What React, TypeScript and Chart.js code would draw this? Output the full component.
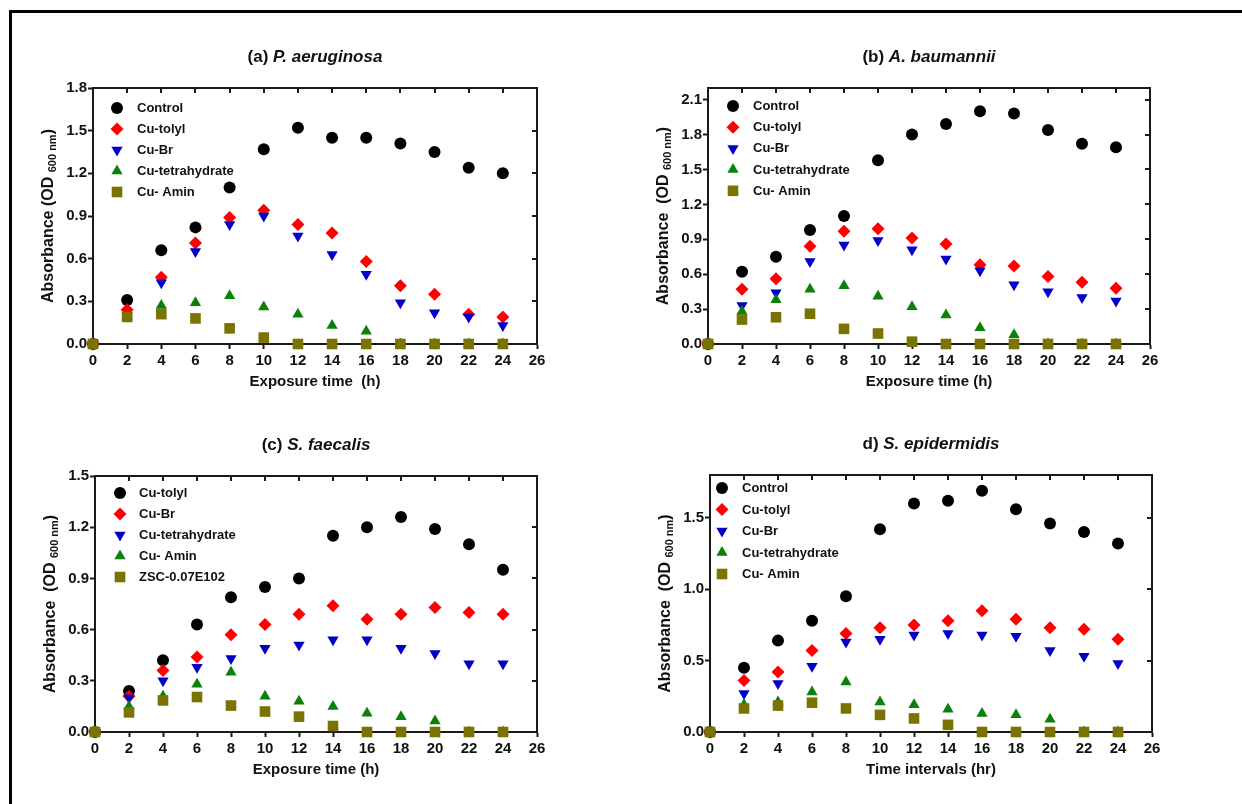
import React, { useEffect, useRef } from 'react';
import { Chart, registerables } from 'chart.js';

Chart.register(...registerables);

// ---------- data ----------
const hours = [0, 2, 4, 6, 8, 10, 12, 14, 16, 18, 20, 22, 24];
const xTickValues = [0, 2, 4, 6, 8, 10, 12, 14, 16, 18, 20, 22, 24, 26];

// (a) P. aeruginosa
const aLabels = ['Control', 'Cu-tolyl', 'Cu-Br', 'Cu-tetrahydrate', 'Cu- Amin'];
const aControl = [0, 0.31, 0.66, 0.82, 1.10, 1.37, 1.52, 1.45, 1.45, 1.41, 1.35, 1.24, 1.20];
const aTolyl = [0, 0.24, 0.47, 0.71, 0.89, 0.94, 0.84, 0.78, 0.58, 0.41, 0.35, 0.21, 0.19];
const aBr = [0, 0.20, 0.43, 0.65, 0.84, 0.90, 0.76, 0.63, 0.49, 0.29, 0.22, 0.19, 0.13];
const aTetra = [0, 0.19, 0.27, 0.29, 0.34, 0.26, 0.21, 0.13, 0.09, 0, 0, 0, 0];
const aAmin = [0, 0.19, 0.21, 0.18, 0.11, 0.045, 0, 0, 0, 0, 0, 0, 0];
const aYTicks = [0, 0.3, 0.6, 0.9, 1.2, 1.5, 1.8];

// (b) A. baumannii
const bLabels = ['Control', 'Cu-tolyl', 'Cu-Br', 'Cu-tetrahydrate', 'Cu- Amin'];
const bControl = [0, 0.62, 0.75, 0.98, 1.10, 1.58, 1.80, 1.89, 2.00, 1.98, 1.84, 1.72, 1.69];
const bTolyl = [0, 0.47, 0.56, 0.84, 0.97, 0.99, 0.91, 0.86, 0.68, 0.67, 0.58, 0.53, 0.48];
const bBr = [0, 0.33, 0.44, 0.71, 0.85, 0.89, 0.81, 0.73, 0.63, 0.51, 0.45, 0.40, 0.37];
const bTetra = [0, 0.28, 0.38, 0.47, 0.50, 0.41, 0.32, 0.25, 0.14, 0.08, 0, 0, 0];
const bAmin = [0, 0.21, 0.23, 0.26, 0.13, 0.09, 0.02, 0, 0, 0, 0, 0, 0];
const bYTicks = [0, 0.3, 0.6, 0.9, 1.2, 1.5, 1.8, 2.1];

// (c) S. faecalis
const cLabels = ['Cu-tolyl', 'Cu-Br', 'Cu-tetrahydrate', 'Cu- Amin', 'ZSC-0.07E102'];
const cTolyl = [0, 0.24, 0.42, 0.63, 0.79, 0.85, 0.90, 1.15, 1.20, 1.26, 1.19, 1.10, 0.95];
const cBr = [0, 0.21, 0.36, 0.44, 0.57, 0.63, 0.69, 0.74, 0.66, 0.69, 0.73, 0.70, 0.69];
const cTetra = [0, 0.20, 0.30, 0.38, 0.43, 0.49, 0.51, 0.54, 0.54, 0.49, 0.46, 0.40, 0.40];
const cAmin = [0, 0.15, 0.21, 0.28, 0.35, 0.21, 0.18, 0.15, 0.11, 0.09, 0.065, 0, 0];
const cZsc = [0, 0.115, 0.185, 0.205, 0.155, 0.12, 0.09, 0.035, 0, 0, 0, 0, 0];
const cYTicks = [0, 0.3, 0.6, 0.9, 1.2, 1.5];

// (d) S. epidermidis
const dLabels = ['Control', 'Cu-tolyl', 'Cu-Br', 'Cu-tetrahydrate', 'Cu- Amin'];
const dControl = [0, 0.45, 0.64, 0.78, 0.95, 1.42, 1.60, 1.62, 1.69, 1.56, 1.46, 1.40, 1.32];
const dTolyl = [0, 0.36, 0.42, 0.57, 0.69, 0.73, 0.75, 0.78, 0.85, 0.79, 0.73, 0.72, 0.65];
const dBr = [0, 0.27, 0.34, 0.46, 0.63, 0.65, 0.68, 0.69, 0.68, 0.67, 0.57, 0.53, 0.48];
const dTetra = [0, 0.19, 0.21, 0.28, 0.35, 0.21, 0.19, 0.16, 0.13, 0.12, 0.09, 0, 0];
const dAmin = [0, 0.165, 0.185, 0.205, 0.165, 0.12, 0.095, 0.05, 0, 0, 0, 0, 0];
const dYTicks = [0, 0.5, 1.0, 1.5];

// ---------- styles ----------
const FONT = '"Liberation Sans", Arial, Helvetica, sans-serif';
const AXIS = '#1a1a1a';

type Marker = { color: string; style: string; radius: number; rotation: number };
const markers: Marker[] = [
  { color: '#000000', style: 'circle', radius: 6, rotation: 0 },
  { color: '#ff0000', style: 'rectRot', radius: 6.5, rotation: 0 },
  { color: '#0000c8', style: 'triangle', radius: 6.5, rotation: 180 },
  { color: '#0a820a', style: 'triangle', radius: 6.5, rotation: 0 },
  { color: '#7a7300', style: 'rect', radius: 7.5, rotation: 0 },
];

type Panel = {
  key: string;
  prefix: string;
  species: string;
  xTitle: string;
  yTitle: string;
  labels: string[];
  series: number[][];
  yMax: number;
  yTicks: number[];
  area: { left: number; top: number; right: number; bottom: number };
  legend: { dx: number; textDx: number; dy: number; gap: number };
};

const panels: Panel[] = [
  {
    key: 'a', prefix: '(a) ', species: 'P. aeruginosa', xTitle: 'Exposure time  (h)',
    yTitle: 'Absorbance (OD ', labels: aLabels,
    series: [aControl, aTolyl, aBr, aTetra, aAmin], yMax: 1.8, yTicks: aYTicks,
    area: { left: 93, top: 88, right: 537, bottom: 344 },
    legend: { dx: 24, textDx: 44, dy: 20, gap: 21 },
  },
  {
    key: 'b', prefix: '(b) ', species: 'A. baumannii', xTitle: 'Exposure time (h)',
    yTitle: 'Absorbance  (OD ', labels: bLabels,
    series: [bControl, bTolyl, bBr, bTetra, bAmin], yMax: 2.2, yTicks: bYTicks,
    area: { left: 708, top: 88, right: 1150, bottom: 344 },
    legend: { dx: 25, textDx: 45, dy: 18, gap: 21.2 },
  },
  {
    key: 'c', prefix: '(c) ', species: 'S. faecalis', xTitle: 'Exposure time (h)',
    yTitle: 'Absorbance  (OD ', labels: cLabels,
    series: [cTolyl, cBr, cTetra, cAmin, cZsc], yMax: 1.5, yTicks: cYTicks,
    area: { left: 95, top: 476, right: 537, bottom: 732 },
    legend: { dx: 25, textDx: 44, dy: 17, gap: 21 },
  },
  {
    key: 'd', prefix: 'd) ', species: 'S. epidermidis', xTitle: 'Time intervals (hr)',
    yTitle: 'Absorbance  (OD ', labels: dLabels,
    series: [dControl, dTolyl, dBr, dTetra, dAmin], yMax: 1.8, yTicks: dYTicks,
    area: { left: 710, top: 475, right: 1152, bottom: 732 },
    legend: { dx: 12, textDx: 32, dy: 13, gap: 21.5 },
  },
];

const PAD_L = 60;
const PAD_T = 50;
const PAD_R = 20;
const PAD_B = 50;

function drawMarker(ctx: CanvasRenderingContext2D, m: Marker, x: number, y: number) {
  const r = m.radius;
  ctx.save();
  ctx.fillStyle = m.color;
  ctx.beginPath();
  if (m.style === 'circle') {
    ctx.arc(x, y, r, 0, Math.PI * 2);
  } else if (m.style === 'rectRot') {
    ctx.moveTo(x, y - r);
    ctx.lineTo(x + r, y);
    ctx.lineTo(x, y + r);
    ctx.lineTo(x - r, y);
    ctx.closePath();
  } else if (m.style === 'triangle') {
    let rad = (m.rotation * Math.PI) / 180;
    ctx.moveTo(x + Math.sin(rad) * r, y - Math.cos(rad) * r);
    rad += (2 * Math.PI) / 3;
    ctx.lineTo(x + Math.sin(rad) * r, y - Math.cos(rad) * r);
    rad += (2 * Math.PI) / 3;
    ctx.lineTo(x + Math.sin(rad) * r, y - Math.cos(rad) * r);
    ctx.closePath();
  } else {
    const s = Math.SQRT1_2 * r;
    ctx.rect(x - s, y - s, 2 * s, 2 * s);
  }
  ctx.fill();
  ctx.restore();
}

function PanelChart({ panel }: { panel: Panel }) {
  const ref = useRef<HTMLCanvasElement | null>(null);
  const areaW = panel.area.right - panel.area.left;
  const areaH = panel.area.bottom - panel.area.top;
  const cw = areaW + PAD_L + PAD_R;
  const ch = areaH + PAD_T + PAD_B;

  useEffect(() => {
    if (!ref.current) return;
    const decor = {
      id: 'decor' + panel.key,
      afterDraw(chart: any) {
        const ctx: CanvasRenderingContext2D = chart.ctx;
        const a = chart.chartArea;
        const xs = chart.scales.x;
        const ys = chart.scales.y;
        ctx.save();
        // box top/right + inward ticks
        ctx.strokeStyle = AXIS;
        ctx.lineWidth = 2;
        ctx.beginPath();
        ctx.moveTo(a.left, a.top);
        ctx.lineTo(a.right, a.top);
        ctx.lineTo(a.right, a.bottom);
        ctx.stroke();
        ctx.beginPath();
        xTickValues.forEach((v) => {
          const px = Math.round(xs.getPixelForValue(v));
          if (px <= a.left + 1 || px >= a.right - 1) return;
          ctx.moveTo(px, a.top);
          ctx.lineTo(px, a.top + 5);
        });
        panel.yTicks.forEach((v) => {
          const py = Math.round(ys.getPixelForValue(v));
          if (py >= a.bottom - 1 || py <= a.top + 1) return;
          ctx.moveTo(a.right, py);
          ctx.lineTo(a.right - 5, py);
        });
        ctx.stroke();

        // panel title
        const cx = (a.left + a.right) / 2;
        const ty = a.top - 31;
        ctx.fillStyle = '#111';
        ctx.textBaseline = 'middle';
        ctx.font = `bold 17px ${FONT}`;
        const w1 = ctx.measureText(panel.prefix).width;
        ctx.font = `italic bold 17px ${FONT}`;
        const w2 = ctx.measureText(panel.species).width;
        const sx = cx - (w1 + w2) / 2;
        ctx.textAlign = 'left';
        ctx.font = `bold 17px ${FONT}`;
        ctx.fillText(panel.prefix, sx, ty);
        ctx.font = `italic bold 17px ${FONT}`;
        ctx.fillText(panel.species, sx + w1, ty);

        // x title
        ctx.font = `bold 15px ${FONT}`;
        ctx.textAlign = 'center';
        ctx.fillText(panel.xTitle, cx, a.bottom + 38);

        // y title with subscript
        ctx.save();
        ctx.translate(a.left - 44, (a.top + a.bottom) / 2);
        ctx.rotate(-Math.PI / 2);
        ctx.textAlign = 'left';
        ctx.font = `bold 16px ${FONT}`;
        const p1 = ctx.measureText(panel.yTitle).width;
        const p3 = ctx.measureText(')').width;
        ctx.font = `bold 11px ${FONT}`;
        const p2 = ctx.measureText('600 nm').width;
        const start = -(p1 + p2 + p3) / 2;
        ctx.font = `bold 16px ${FONT}`;
        ctx.fillText(panel.yTitle, start, 0);
        ctx.font = `bold 11px ${FONT}`;
        ctx.fillText('600 nm', start + p1, 4);
        ctx.font = `bold 16px ${FONT}`;
        ctx.fillText(')', start + p1 + p2, 0);
        ctx.restore();

        // legend
        ctx.font = `bold 13px ${FONT}`;
        ctx.textAlign = 'left';
        ctx.textBaseline = 'middle';
        panel.labels.forEach((lab, i) => {
          const y = a.top + panel.legend.dy + i * panel.legend.gap;
          drawMarker(ctx, markers[i], a.left + panel.legend.dx, y);
          ctx.fillStyle = '#111';
          ctx.fillText(lab, a.left + panel.legend.textDx, y + 0.5);
        });
        ctx.restore();
      },
    };

    const datasets = panel.series.map((vals, i) => ({
      label: panel.labels[i],
      data: hours.map((h, j) => ({ x: h, y: vals[j] })),
      pointStyle: markers[i].style,
      pointRotation: markers[i].rotation,
      pointRadius: markers[i].radius,
      pointHoverRadius: markers[i].radius,
      backgroundColor: markers[i].color,
      borderColor: markers[i].color,
      pointBorderWidth: 0,
      showLine: false,
      clip: false as any,
      order: panel.series.length - i,
    }));

    const chart = new Chart(ref.current, {
      type: 'scatter',
      data: { datasets },
      options: {
        responsive: false,
        animation: false,
        devicePixelRatio: 1,
        layout: { padding: { left: PAD_L - 50, top: PAD_T, right: PAD_R, bottom: 0 } },
        plugins: { legend: { display: false }, tooltip: { enabled: false }, title: { display: false } },
        scales: {
          x: {
            type: 'linear',
            min: 0,
            max: 26,
            afterFit: (s: any) => { s.height = PAD_B; },
            afterBuildTicks: (s: any) => { s.ticks = xTickValues.map((v) => ({ value: v })); },
            ticks: {
              autoSkip: false,
              maxRotation: 0,
              padding: 3,
              color: '#111',
              font: { family: FONT, size: 15, weight: 'bold' },
              callback: (v: any) => String(v),
            },
            grid: { drawOnChartArea: false, drawTicks: true, tickLength: 5, tickWidth: 2, tickColor: AXIS },
            border: { display: true, width: 2, color: AXIS },
          },
          y: {
            type: 'linear',
            min: 0,
            max: panel.yMax,
            afterFit: (s: any) => { s.width = 50; },
            afterBuildTicks: (s: any) => { s.ticks = panel.yTicks.map((v) => ({ value: v })); },
            ticks: {
              padding: 1,
              color: '#111',
              font: { family: FONT, size: 15, weight: 'bold' },
              callback: (v: any) => Number(v).toFixed(1),
            },
            grid: { drawOnChartArea: false, drawTicks: true, tickLength: 5, tickWidth: 2, tickColor: AXIS },
            border: { display: true, width: 2, color: AXIS },
          },
        },
      } as any,
      plugins: [decor],
    });
    return () => chart.destroy();
  }, [panel]);

  return (
    <canvas
      ref={ref}
      width={cw}
      height={ch}
      style={{
        position: 'absolute',
        left: panel.area.left - PAD_L,
        top: panel.area.top - PAD_T,
        width: cw,
        height: ch,
      }}
    />
  );
}

export default function App() {
  return (
    <div
      style={{
        position: 'absolute',
        left: 0,
        top: 0,
        width: 1242,
        height: 804,
        overflow: 'hidden',
        background: '#ffffff',
      }}
    >
      <div
        style={{
          position: 'absolute',
          left: 9,
          top: 10,
          width: 1400,
          height: 1000,
          borderLeft: '3px solid #000',
          borderTop: '3px solid #000',
        }}
      />
      {panels.map((p) => (
        <PanelChart key={p.key} panel={p} />
      ))}
    </div>
  );
}
